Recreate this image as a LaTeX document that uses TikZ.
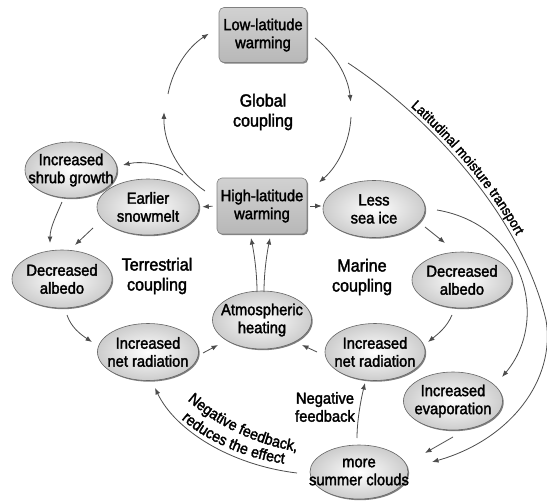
\documentclass[tikz,border=0pt]{standalone}
\usepackage{fontspec}
\setmainfont{Liberation Sans}[FakeStretch=0.92,FakeBold=2]
\usetikzlibrary{shapes.geometric,arrows.meta,shadows,calc,decorations.text}
\newcommand\nodefont{\fontsize{16}{18}\selectfont}
\newcommand\cplfont{\fontsize{17.5}{20}\selectfont}
\newcommand\arcfont{\fontsize{15.5}{17}\selectfont}
\newcommand\moistfont{\fontsize{14}{16}\selectfont}
\tikzset{
  oval/.style={ellipse, inner sep=0pt, draw=black!60, line width=0.6pt,
    inner color=white, outer color=black!20,
    drop shadow={shadow xshift=1.2pt, shadow yshift=-1.2pt, fill=black, opacity=0.5}},
  gbox/.style={rectangle, rounded corners=5pt, inner sep=1pt, draw=black!50, line width=0.6pt,
    top color=black!18, bottom color=black!28, minimum width=88pt, minimum height=55pt,
    align=center, font=\nodefont,
    drop shadow={shadow xshift=1.2pt, shadow yshift=-1.2pt, fill=black, opacity=0.5}},
  ntxt/.style={align=center, font=\nodefont, inner sep=0pt},
  ctxt/.style={align=center, font=\cplfont, inner sep=0pt},
  arr/.style={draw=black!70, line width=0.8pt, -{Latex[length=6.5pt,width=5pt]}},
}
\begin{document}
\begin{tikzpicture}[x=1pt,y=-1pt]
\fill[white] (0,0) rectangle (547,503);
\useasboundingbox (0,0) rectangle (547,503);
% boxes
\node[gbox] (llw) at (263,35) {Low-latitude\\warming};
\node[gbox, minimum width=90pt, minimum height=56pt] (hlw) at (262,206) {High-latitude\\warming};
% ovals
\node[oval, minimum width=92pt, minimum height=56pt] (shrub) at (71,170) {};
\node[oval, minimum width=102pt, minimum height=56pt] (melt) at (148,207) {};
\node[oval, minimum width=102pt, minimum height=57pt] (ice) at (374,209) {};
\node[oval, minimum width=100pt, minimum height=58pt] (albL) at (62,279) {};
\node[oval, minimum width=99pt, minimum height=58pt] (atm) at (262,320) {};
\node[oval, minimum width=101pt, minimum height=57pt] (nrL) at (148,352) {};
\node[oval, minimum width=100pt, minimum height=56pt] (albR) at (462,280) {};
\node[oval, minimum width=100pt, minimum height=57pt] (nrR) at (375,352) {};
\node[oval, minimum width=99pt, minimum height=58pt] (evap) at (453,401) {};
\node[oval, minimum width=98pt, minimum height=54pt] (clouds) at (359,472) {};
% oval texts
\node[ntxt] (shrubT) at (shrub) {Increased\\shrub growth};
\node[ntxt] (meltT) at (melt) {Earlier\\snowmelt};
\node[ntxt] (iceT) at (ice) {Less\\sea ice};
\node[ntxt] (albLT) at (albL) {Decreased\\albedo};
\node[ntxt] (atmT) at (atm) {Atmospheric\\heating};
\node[ntxt] (nrLT) at (nrL) {Increased\\net radiation};
\node[ntxt] (albRT) at (albR) {Decreased\\albedo};
\node[ntxt] (nrRT) at (nrR) {Increased\\net radiation};
\node[ntxt] (evapT) at (evap) {Increased\\evaporation};
\node[ntxt] (cloudsT) at (clouds) {more\\summer clouds};
% coupling texts
\node[ctxt] (glob) at (263,112) {Global\\coupling};
\node[ctxt] (terr) at (157,276) {Terrestrial\\coupling};
\node[ctxt] (mar) at (362,277) {Marine\\coupling};
\node[ntxt] (negfb) at (325,407) {Negative\\feedback};
% global coupling circle
\draw[arr] ($(hlw)+(-57,-15)$) arc[start angle=124, end angle=181, radius=93];
\draw[arr] ($(llw)+(-95,59)$) arc[start angle=191, end angle=237, radius=93];
\draw[arr] ($(llw)+(52,3)$) arc[start angle=307.6, end angle=353.8, radius=93];
\draw[arr] ($(hlw)+(89,-89)$) arc[start angle=3, end angle=49, radius=93];
% terrestrial
\draw[arr] ($(hlw)+(-79,-31)$) .. controls +(-18,-12) and +(17,-4) .. ($(shrub)+(52,-5)$);
\draw[arr, shorten <=4pt, shorten >=3pt] (hlw.west) -- (melt.east);
\draw[arr] ($(shrub)+(-9,32)$) .. controls +(-6,14) and +(0,-15) .. ($(albL)+(-12,-36)$);
\draw[arr] ($(melt)+(-55,21)$) -- ($(albL)+(13,-34)$);
\draw[arr] ($(albL)+(5,36)$) .. controls +(4,12) and +(-12,-8) .. ($(nrL)+(-56,-10)$);
\draw[arr] ($(nrL)+(55,1)$) -- ($(atm)+(-44,25)$);
\draw[arr] ($(atm)+(-5,-28)$) .. controls +(0,-20) and +(3,15) .. ($(hlw)+(-11,32)$);
\draw[arr] ($(atm)+(2,-28)$) .. controls +(0,-20) and +(-3,15) .. ($(hlw)+(8,32)$);
% marine
\draw[arr, shorten <=3pt, shorten >=1pt] (hlw.east) -- (hlw.east -| ice.west);
\draw[arr] ($(ice)+(51,18)$) -- ($(albR)+(-17,-37)$);
\draw[arr] ($(ice)+(63,1)$) .. controls +(88,15) and +(48,-57) .. ($(evap)+(49,-24)$);
\draw[arr] ($(llw)+(85,28)$) .. controls +(72,47) and +(-26,-110) .. ($(ice)+(172,111)$)
   .. controls +(10,60) and +(78,-22) .. ($(clouds)+(73,-10)$);
\draw[arr] ($(albR)+(-10,35)$) .. controls +(-5,12) and +(10,-8) .. ($(nrR)+(53,-10)$);
\draw[arr] ($(nrR)+(-58,0)$) -- ($(atm)+(40,25)$);
\draw[arr] ($(evap)+(0,36)$) -- ($(clouds)+(66,-19)$);
\draw[arr] ($(clouds)+(-2,-34)$) .. controls +(0,-20) and +(-3,12) .. ($(nrR)+(-10,31)$);
\draw[arr] ($(clouds)+(-62,1)$) .. controls +(-67,-8) and +(20,42) .. ($(nrL)+(7,36)$);
% curved labels
\path[decorate, decoration={text along path, text align=center,
   text={|\arcfont|Negative feedback,}}]
   ($(nrL)+(37,46)$) .. controls +(30,27) and +(-45,-7) .. ($(clouds)+(-59,-20)$);
\path[decorate, decoration={text along path, text align=center,
   text={|\arcfont|reduces the effect}}]
   ($(nrL)+(24,58)$) .. controls +(28,30) and +(-47,-3) .. ($(clouds)+(-62,-7)$);
\path[decorate, decoration={text along path, raise=4pt,
   text align={align=left, left indent=76pt},
   text={|\moistfont|Latitudinal moisture transport}}]
   ($(llw)+(85,28)$) .. controls +(72,47) and +(-26,-110) .. ($(ice)+(172,111)$);
\end{tikzpicture}
\end{document}
